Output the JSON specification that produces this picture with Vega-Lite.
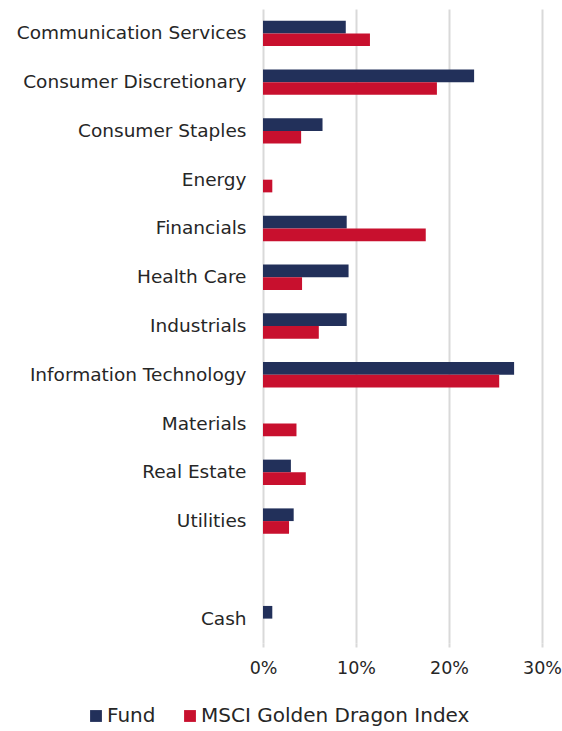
{
  "$schema": "https://vega.github.io/schema/vega-lite/v6.json",
  "width": 279,
  "height": 634,
  "autosize": {"type": "none"},
  "padding": {"left": 263, "top": 9, "right": 20, "bottom": 88},
  "background": "white",
  "config": {"view": {"stroke": null}, "font": "DejaVu Sans"},
  "data": {
    "values": [
      {"sector": "Communication Services", "series": "Fund", "value": 0.089},
      {"sector": "Communication Services", "series": "MSCI Golden Dragon Index", "value": 0.115},
      {"sector": "Consumer Discretionary", "series": "Fund", "value": 0.227},
      {"sector": "Consumer Discretionary", "series": "MSCI Golden Dragon Index", "value": 0.187},
      {"sector": "Consumer Staples", "series": "Fund", "value": 0.064},
      {"sector": "Consumer Staples", "series": "MSCI Golden Dragon Index", "value": 0.041},
      {"sector": "Energy", "series": "MSCI Golden Dragon Index", "value": 0.010},
      {"sector": "Financials", "series": "Fund", "value": 0.090},
      {"sector": "Financials", "series": "MSCI Golden Dragon Index", "value": 0.175},
      {"sector": "Health Care", "series": "Fund", "value": 0.092},
      {"sector": "Health Care", "series": "MSCI Golden Dragon Index", "value": 0.042},
      {"sector": "Industrials", "series": "Fund", "value": 0.090},
      {"sector": "Industrials", "series": "MSCI Golden Dragon Index", "value": 0.060},
      {"sector": "Information Technology", "series": "Fund", "value": 0.270},
      {"sector": "Information Technology", "series": "MSCI Golden Dragon Index", "value": 0.254},
      {"sector": "Materials", "series": "MSCI Golden Dragon Index", "value": 0.036},
      {"sector": "Real Estate", "series": "Fund", "value": 0.030},
      {"sector": "Real Estate", "series": "MSCI Golden Dragon Index", "value": 0.046},
      {"sector": "Utilities", "series": "Fund", "value": 0.033},
      {"sector": "Utilities", "series": "MSCI Golden Dragon Index", "value": 0.028},
      {"sector": "Cash", "series": "Fund", "value": 0.010}
    ]
  },
  "mark": {"type": "bar"},
  "encoding": {
    "y": {
      "field": "sector",
      "type": "nominal",
      "scale": {
        "domain": ["Communication Services", "Consumer Discretionary", "Consumer Staples", "Energy", "Financials", "Health Care", "Industrials", "Information Technology", "Materials", "Real Estate", "Utilities", " ", "Cash"],
        "paddingInner": 0.48,
        "paddingOuter": 0.24
      },
      "axis": {
        "title": null,
        "domain": false,
        "ticks": false,
        "labelPadding": 17,
        "labelFontSize": 18.5,
        "labelColor": "#262626",
        "labelLimit": 300
      }
    },
    "yOffset": {
      "field": "series",
      "type": "nominal",
      "scale": {"domain": ["Fund", "MSCI Golden Dragon Index"], "paddingInner": 0, "paddingOuter": 0}
    },
    "x": {
      "field": "value",
      "type": "quantitative",
      "scale": {"domain": [0, 0.3], "nice": false},
      "axis": {
        "title": null,
        "format": ".0%",
        "values": [0, 0.1, 0.2, 0.3],
        "domain": false,
        "ticks": true,
        "tickSize": 4,
        "tickColor": "#d9d9d9",
        "tickWidth": 2,
        "grid": true,
        "gridColor": "#d9d9d9",
        "gridWidth": 2,
        "labelPadding": 12,
        "labelFontSize": 17.5,
        "labelColor": "#262626",
        "labelFlush": false
      }
    },
    "color": {
      "field": "series",
      "type": "nominal",
      "scale": {"domain": ["Fund", "MSCI Golden Dragon Index"], "range": ["#22305A", "#C8102E"]},
      "legend": {
        "title": null,
        "orient": "none",
        "direction": "horizontal",
        "legendX": -177,
        "legendY": 697,
        "symbolType": "square",
        "symbolSize": 140,
        "symbolStrokeWidth": 0,
        "labelFontSize": 20,
        "labelColor": "#262626",
        "labelOffset": 1,
        "columnPadding": 24,
        "labelLimit": 400
      }
    }
  }
}
